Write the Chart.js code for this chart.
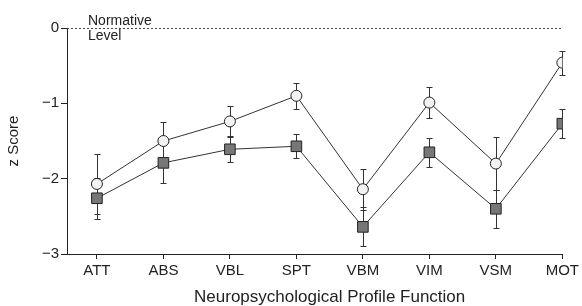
<!DOCTYPE html>
<html>
<head>
<meta charset="utf-8">
<script src="https://cdn.jsdelivr.net/npm/chart.js@4.4.1/dist/chart.umd.min.js"></script>
<style>
  html, body { margin: 0; padding: 0; background: #fff; }
  #wrap { width: 582px; height: 306px; }
</style>
</head>
<body>
<div id="wrap"><canvas id="profile"></canvas></div>
<script>
const functions = ['ATT', 'ABS', 'VBL', 'SPT', 'VBM', 'VIM', 'VSM', 'MOT'];
const circleScores = [-2.07, -1.50, -1.24, -0.90, -2.14, -0.99, -1.80, -0.46];
const circleErrors = [0.40, 0.25, 0.21, 0.17, 0.27, 0.21, 0.35, 0.16];
const squareScores = [-2.26, -1.79, -1.61, -1.57, -2.64, -1.65, -2.40, -1.27];
const squareErrors = [0.27, 0.27, 0.17, 0.16, 0.26, 0.19, 0.25, 0.19];
const yTicks = [0, -1, -2, -3];

const font = 'Liberation Sans, Arial, sans-serif';
const ink = '#222';

// vertical error bars with small caps, drawn under the markers
const errorBars = {
  id: 'errorBars',
  beforeDatasetsDraw(chart) {
    const { ctx, scales: { x, y } } = chart;
    ctx.save();
    ctx.strokeStyle = '#333';
    ctx.lineWidth = 1;
    chart.data.datasets.forEach(ds => {
      if (!ds.errors) return;
      ds.data.forEach((p, i) => {
        const px = Math.round(x.getPixelForValue(p.x)) + 0.5;
        const top = Math.round(y.getPixelForValue(p.y + ds.errors[i])) + 0.5;
        const bot = Math.round(y.getPixelForValue(p.y - ds.errors[i])) + 0.5;
        ctx.beginPath();
        ctx.moveTo(px, top); ctx.lineTo(px, bot);
        ctx.moveTo(px - 3, top); ctx.lineTo(px + 3, top);
        ctx.moveTo(px - 3, bot); ctx.lineTo(px + 3, bot);
        ctx.stroke();
      });
    });
    ctx.restore();
  }
};

// dotted normative line at z = 0 and its label
const normative = {
  id: 'normative',
  beforeDatasetsDraw(chart) {
    const { ctx, chartArea, scales: { y } } = chart;
    const y0 = Math.round(y.getPixelForValue(0)) + 0.5;
    ctx.save();
    ctx.strokeStyle = '#444';
    ctx.lineWidth = 1;
    ctx.setLineDash([2, 2]);
    ctx.beginPath();
    ctx.moveTo(chartArea.left, y0);
    ctx.lineTo(chartArea.right, y0);
    ctx.stroke();
    ctx.setLineDash([]);
    ctx.fillStyle = ink;
    ctx.font = '14px ' + font;
    ctx.textAlign = 'left';
    ctx.textBaseline = 'alphabetic';
    ctx.fillText('Normative', chartArea.left + 21, y0 - 4);
    ctx.fillText('Level', chartArea.left + 21, y0 + 11);
    ctx.restore();
  }
};

// x axis title, sits a little right of the plot centre in the original
const xTitle = {
  id: 'xTitle',
  afterDraw(chart) {
    const { ctx, chartArea } = chart;
    ctx.save();
    ctx.fillStyle = ink;
    ctx.font = '17px ' + font;
    ctx.textAlign = 'center';
    ctx.textBaseline = 'middle';
    ctx.fillText('Neuropsychological Profile Function', (chartArea.left + chartArea.right) / 2 + 15, chartArea.bottom + 43);
    ctx.restore();
  }
};

const ctx = document.getElementById('profile');

new Chart(ctx, {
  type: 'line',
  data: {
    datasets: [
      {
        label: 'circles',
        data: functions.map((f, i) => ({ x: i, y: circleScores[i] })),
        errors: circleErrors,
        borderColor: '#333',
        borderWidth: 1,
        pointStyle: 'circle',
        pointRadius: 5.5,
        pointBackgroundColor: '#f2f2f2',
        pointBorderColor: ink,
        pointBorderWidth: 1
      },
      {
        label: 'squares',
        data: functions.map((f, i) => ({ x: i, y: squareScores[i] })),
        errors: squareErrors,
        borderColor: '#333',
        borderWidth: 1,
        pointStyle: 'rect',
        pointRadius: 7.5,
        pointBackgroundColor: '#777',
        pointBorderColor: ink,
        pointBorderWidth: 1
      }
    ]
  },
  options: {
    responsive: true,
    maintainAspectRatio: false,
    animation: false,
    layout: { padding: { left: 0, top: 28, right: 19, bottom: 0 } },
    plugins: {
      legend: { display: false },
      tooltip: { enabled: false }
    },
    scales: {
      x: {
        type: 'linear',
        min: -0.45,
        max: 7,
        afterBuildTicks: s => { s.ticks = functions.map((f, i) => ({ value: i })); },
        afterFit: s => { s.height = 52; },
        grid: { drawOnChartArea: false, drawTicks: true, tickLength: 5, color: ink },
        border: { display: true, color: ink, width: 1 },
        ticks: {
          autoSkip: false,
          maxRotation: 0,
          padding: 3,
          color: ink,
          font: { family: font, size: 15 },
          callback: v => functions[v] ?? ''
        }
      },
      y: {
        min: -3,
        max: 0,
        afterBuildTicks: s => { s.ticks = yTicks.map(v => ({ value: v })); },
        afterFit: s => { s.width = 67; },
        grid: { drawOnChartArea: false, drawTicks: true, tickLength: 6, color: ink },
        border: { display: true, color: ink, width: 1 },
        ticks: {
          padding: 2,
          color: ink,
          font: { family: font, size: 15 },
          callback: v => (v < 0 ? '\u2212' + Math.abs(v) : String(v))
        },
        title: {
          display: true,
          text: 'z Score',
          color: ink,
          font: { family: font, size: 15 },
          padding: { top: 5, bottom: 0 }
        }
      }
    }
  },
  plugins: [errorBars, normative, xTitle]
});
</script>
</body>
</html>
